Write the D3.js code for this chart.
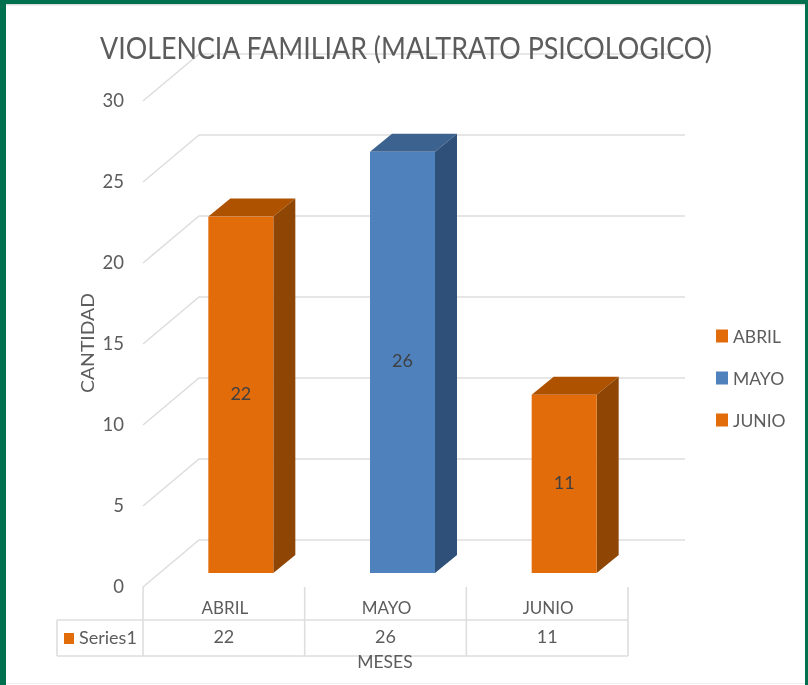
<!DOCTYPE html>
<html><head><meta charset="utf-8">
<style>html,body{margin:0;padding:0;background:#fff}svg{display:block;filter:blur(0.45px)}text{font-family:Lato,"Open Sans",sans-serif;fill:#5C5C5C}</style>
<script src="https://cdn.jsdelivr.net/npm/d3@7"></script>
</head><body><svg id="c" width="808" height="685"></svg>
<script>
const categories = ["ABRIL","MAYO","JUNIO"];
const values = [22,26,11];
const yTicks = [0,5,10,15,20,25,30];
const seriesName = "Series1";
const titleText = "VIOLENCIA FAMILIAR (MALTRATO PSICOLOGICO)";
const xTitle = "MESES", yTitle = "CANTIDAD";
const faceColors = {ABRIL:"#E36C0A",MAYO:"#4F81BD",JUNIO:"#E36C0A"};
const topColors  = {ABRIL:"#AE5200",MAYO:"#3C6290",JUNIO:"#AE5200"};
const sideColors = {ABRIL:"#8F4503",MAYO:"#2F5078",JUNIO:"#8F4503"};

const svg = d3.select("#c");
const green = "#00704F", grid = "#DEDEDE";
// frame
svg.append("rect").attr("width",808).attr("height",685).attr("fill","#fff");
svg.append("rect").attr("width",808).attr("height",4).attr("fill",green);
svg.append("rect").attr("width",6).attr("height",685).attr("fill",green);
svg.append("rect").attr("x",805).attr("width",3).attr("height",685).attr("fill",green);
svg.append("rect").attr("x",6).attr("y",4).attr("width",799).attr("height",1.5).attr("fill","#DDD");
svg.append("rect").attr("x",6).attr("y",683).attr("width",799).attr("height",1).attr("fill","#EEE");

const y = d3.scaleLinear().domain([0,30]).range([587,101]);
const x = d3.scaleBand().domain(categories).range([143,628]);
const backDx = 56, backDy = 47;
const depthDx = 22, depthDy = 18;
const barW = 65, barBase = -14, barShift = 17;

// walls
const gridG = svg.append("g").attr("fill","none").attr("stroke",grid).attr("stroke-width",1.6);
gridG.selectAll("path").data(yTicks).join("path")
  .attr("d",t=>`M143,${y(t)}L${143+backDx},${y(t)-backDy}L685,${y(t)-backDy}`);

// table
const tbl = svg.append("g").attr("stroke",grid).attr("stroke-width",1.6);
const rowTop = 620, rowBottom = 656, tableLeft = 57;
x.domain().concat([null]).forEach(c=>{
  const px = c===null ? x.range()[1] : x(c);
  tbl.append("line").attr("x1",px).attr("x2",px).attr("y1",587).attr("y2",rowBottom);
});
tbl.append("line").attr("x1",tableLeft).attr("x2",628).attr("y1",rowTop).attr("y2",rowTop);
tbl.append("line").attr("x1",tableLeft).attr("x2",628).attr("y1",rowBottom).attr("y2",rowBottom);
tbl.append("line").attr("x1",tableLeft).attr("x2",tableLeft).attr("y1",rowTop).attr("y2",rowBottom);

// bars
const data = categories.map((c,i)=>({c,v:values[i]}));
const bars = svg.append("g").selectAll("g").data(data).join("g");
const bx = d=>x(d.c)+x.bandwidth()/2-barW/2+barShift;
const base = y(0)+barBase;
const by = d=>base-(y(0)-y(d.v));
bars.append("path").attr("fill",d=>topColors[d.c])
  .attr("d",d=>`M${bx(d)},${by(d)}l${depthDx},${-depthDy}h${barW}l${-depthDx},${depthDy}z`);
bars.append("path").attr("fill",d=>sideColors[d.c])
  .attr("d",d=>`M${bx(d)+barW},${by(d)}l${depthDx},${-depthDy}V${base-depthDy}l${-depthDx},${depthDy}z`);
bars.append("rect").attr("fill",d=>faceColors[d.c])
  .attr("x",bx).attr("y",by).attr("width",barW).attr("height",d=>base-by(d));
bars.append("text").attr("x",d=>bx(d)+barW/2).attr("y",d=>(by(d)+base)/2-2)
  .attr("text-anchor","middle").attr("dominant-baseline","central").attr("font-size",18)
  .style("fill","#404040").text(d=>d.v);

// y labels
svg.append("g").selectAll("text").data(yTicks).join("text")
  .attr("x",124).attr("y",t=>y(t)-1).attr("text-anchor","end").attr("dominant-baseline","central")
  .attr("font-size",18.5).text(t=>t);

// table texts
svg.append("g").selectAll("text").data(categories).join("text")
  .attr("x",c=>x(c)+x.bandwidth()/2+1).attr("y",607).attr("text-anchor","middle")
  .attr("dominant-baseline","central").attr("font-size",17).text(c=>c);
svg.append("g").selectAll("text").data(data).join("text")
  .attr("x",d=>x(d.c)+x.bandwidth()/2).attr("y",636).attr("text-anchor","middle")
  .attr("dominant-baseline","central").attr("font-size",18).text(d=>d.v);
svg.append("rect").attr("x",64).attr("y",633).attr("width",10).attr("height",11).attr("fill",faceColors.ABRIL);
svg.append("text").attr("x",79).attr("y",637).attr("dominant-baseline","central").attr("font-size",18).text(seriesName);

// titles
svg.append("text").attr("x",406).attr("y",47).attr("text-anchor","middle").attr("dominant-baseline","central")
  .attr("font-size",31).attr("textLength",612).attr("lengthAdjust","spacingAndGlyphs").text(titleText);
svg.append("text").attr("x",385).attr("y",661).attr("text-anchor","middle").attr("dominant-baseline","central")
  .attr("font-size",17.5).text(xTitle);
svg.append("text").attr("transform","translate(87,343) rotate(-90)").attr("text-anchor","middle")
  .attr("dominant-baseline","central").attr("font-size",18).attr("textLength",100).attr("lengthAdjust","spacingAndGlyphs").text(yTitle);

// legend
const leg = svg.append("g").selectAll("g").data(categories).join("g")
  .attr("transform",(c,i)=>`translate(716,${336+i*42})`);
leg.append("rect").attr("y",-6.5).attr("width",12).attr("height",13).attr("fill",c=>faceColors[c]);
leg.append("text").attr("x",17).attr("dominant-baseline","central").attr("font-size",17.5).text(c=>c);
</script></body></html>
